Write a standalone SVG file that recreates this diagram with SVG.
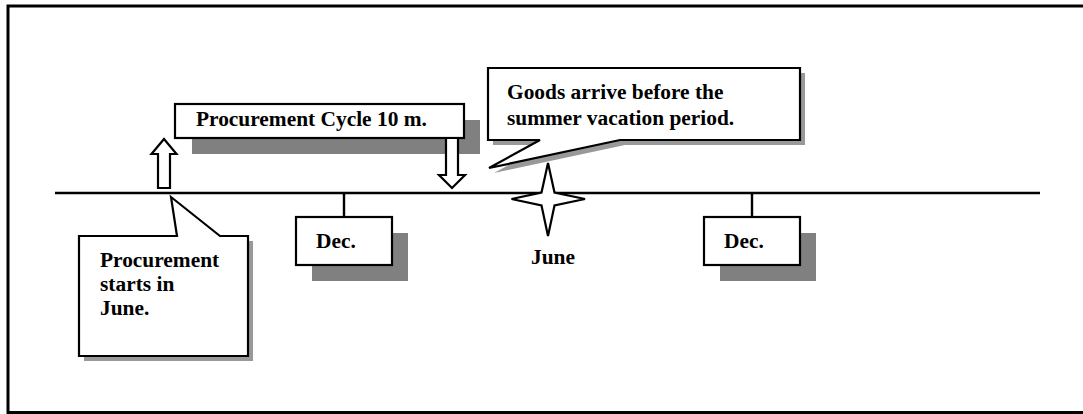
<svg xmlns="http://www.w3.org/2000/svg" width="1083" height="414" viewBox="0 0 1083 414">
<style>
.t{font-family:"Liberation Serif","Times New Roman",serif;font-weight:bold;font-size:21.4px;fill:#000}
.box{fill:#fff;stroke:#000;stroke-width:2.2}
.sh{fill:#808080}
.csh{fill:#999}
.ln{fill:none;stroke:#000;stroke-width:2.4}
</style>
<rect x="0" y="0" width="1083" height="414" fill="#fff"/>
<rect x="8" y="6" width="1100" height="406.5" fill="none" stroke="#000" stroke-width="3"/>
<g id="connectors">
<path class="ln" d="M55,193 H1040"/>
<path class="ln" d="M344,193 V217"/>
<path class="ln" d="M752,193 V217"/>
</g>
<g id="start-arrow">
<path class="box" d="M158,188 V154 H151.5 L164,139 L176.5,154 H170 V188 Z"/>
</g>
<g id="cycle">
<rect class="sh" x="192" y="120" width="288" height="34"/>
<rect class="box" x="175" y="104" width="289" height="34"/>
<text class="t" x="196" y="126">Procurement Cycle 10 m.</text>
<path class="box" d="M446,138 V175 H439 L452,188 L465,175 H458 V138 Z"/>
</g>
<g id="goods-callout">
<path class="csh" d="M493,73 H805 V145 H625 L494,173 L545,145 H493 Z"/>
<path class="box" d="M488,68 H800 V140 H620 L489,168 L540,140 H488 Z"/>
<text class="t" x="507" y="99">Goods arrive before the</text>
<text class="t" x="507" y="125">summer vacation period.</text>
</g>
<g id="june">
<path class="box" d="M548,163 L554.5,192.5 L585,199 L554.5,205.5 L548,236 L541.5,205.5 L511.5,199 L541.5,192.5 Z"/>
<text class="t" x="531" y="264">June</text>
</g>
<g id="start-callout">
<path class="csh" d="M84,241 H253 V361 H84 Z"/>
<path class="box" d="M79,236 H177 L171,197 L220,236 H248 V356 H79 Z"/>
<text class="t" x="100" y="267">Procurement</text>
<text class="t" x="100" y="291">starts in</text>
<text class="t" x="100" y="315">June.</text>
</g>
<g id="dec1">
<rect class="sh" x="312" y="233" width="96" height="48"/>
<rect class="box" x="296" y="217" width="96" height="48"/>
<text class="t" x="316" y="248">Dec.</text>
</g>
<g id="dec2">
<rect class="sh" x="720" y="233" width="96" height="48"/>
<rect class="box" x="704" y="217" width="96" height="48"/>
<text class="t" x="724" y="248">Dec.</text>
</g>
</svg>
